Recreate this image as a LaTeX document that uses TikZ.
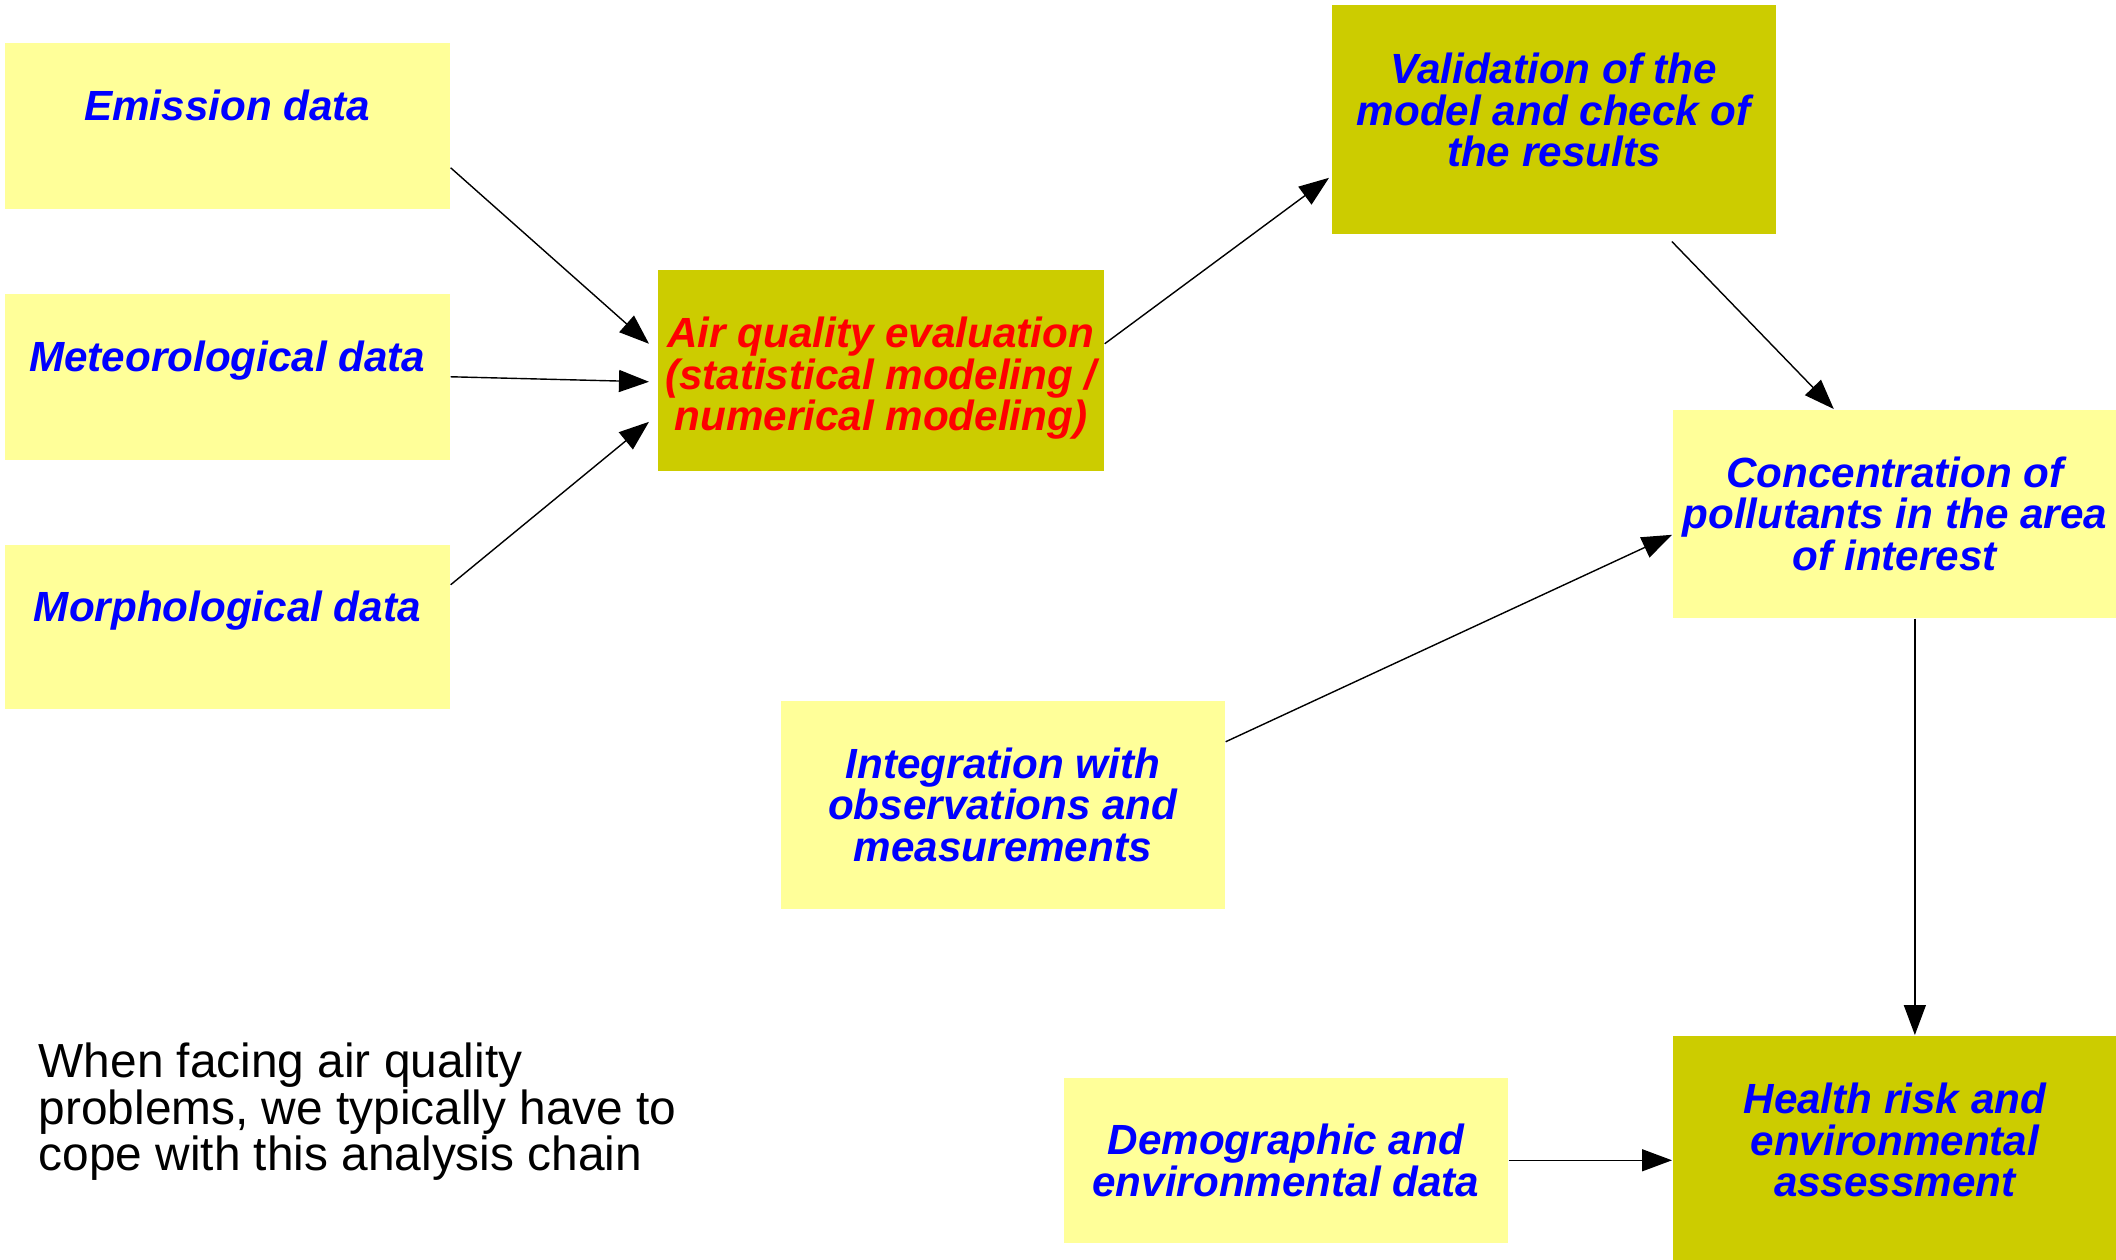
\documentclass[tikz,border=0pt]{standalone}
\usepackage{fontspec}
\setmainfont{Liberation Sans}
\usetikzlibrary{arrows.meta}
\definecolor{paleyellow}{HTML}{FFFF99}
\definecolor{olivefill}{HTML}{CCCC00}

\begin{document}
\begin{tikzpicture}[x=0.01cm,y=-0.01cm]
      \tikzstyle{lightbox}=[fill=paleyellow, anchor=north west, minimum width=4.45cm, inner sep=0pt, align=center, text=blue, font=\fontsize{12}{11.8}\selectfont\bfseries\itshape]
      \tikzstyle{darkbox}=[lightbox, fill=olivefill]
      \tikzstyle{raised}=[text depth=0.42cm]
      \tikzstyle{link}=[-{Triangle[length=0.3cm,width=0.22cm]}, line width=0.4pt]

      \useasboundingbox (0,0) rectangle (2116,1259);

      \node[lightbox, raised, minimum height=1.66cm] (emis) at (4,42) {Emission data};
      \node[lightbox, raised, minimum height=1.66cm] (meteo) at (4,293) {Meteorological data};
      \node[lightbox, raised, minimum height=1.64cm] (morph) at (4,544) {Morphological data};
      \node[darkbox, text=red, minimum height=2.01cm, minimum width=4.46cm] (air) at (657,269) {\rule{0pt}{0.47cm}Air quality evaluation\\(statistical modeling /\\numerical modeling)};
      \node[darkbox, minimum height=2.29cm, minimum width=4.44cm] (valid) at (1331,4) {Validation of the\\model and check of\\the results\rule[-0.19cm]{0pt}{0.19cm}};
      \node[lightbox, minimum height=2.08cm, minimum width=4.44cm] (conc) at (1672,409) {Concentration of\\pollutants in the area\\of interest};
      \node[lightbox, minimum height=2.08cm, minimum width=4.44cm] (integ) at (780,700) {Integration with\\observations and\\measurements};
      \node[lightbox, minimum height=1.65cm, minimum width=4.44cm] (demo) at (1063,1077) {Demographic and\\environmental data};
      \node[darkbox, minimum height=2.24cm, minimum width=4.44cm] (health) at (1672,1035) {Health risk and\\environmental\\assessment\rule[-0.16cm]{0pt}{0.16cm}};
      \node[anchor=north west, align=left, inner sep=0pt, font=\fontsize{13.6}{13.3}\selectfont] (note) at (38,1042) {When facing air quality\\problems, we typically have to\\cope with this analysis chain};

      \draw[link] ([yshift=-0.42cm]emis.east) -- ([xshift=-0.08cm,yshift=0.265cm]air.west);
      \draw[link] (meteo.east) -- ([xshift=-0.08cm,yshift=-0.115cm]air.west);
      \draw[link] ([yshift=0.42cm]morph.east) -- ([xshift=-0.08cm,yshift=-0.515cm]air.west);
      \draw[link] ([yshift=0.265cm]air.east) -- ([xshift=-0.02cm,yshift=-0.585cm]valid.west);
      \draw[link] ([xshift=1.18cm,yshift=-0.07cm]valid.south) -- ([xshift=-0.61cm]conc.north);
      \draw[link] ([yshift=0.63cm]integ.east) -- ([yshift=-0.21cm]conc.west);
      \draw[link] ([xshift=0.2cm]conc.south) -- ([xshift=0.2cm]health.north);
      \draw[link] (demo.east) -- (demo.east -| health.west);

    \end{tikzpicture}
\end{document}
